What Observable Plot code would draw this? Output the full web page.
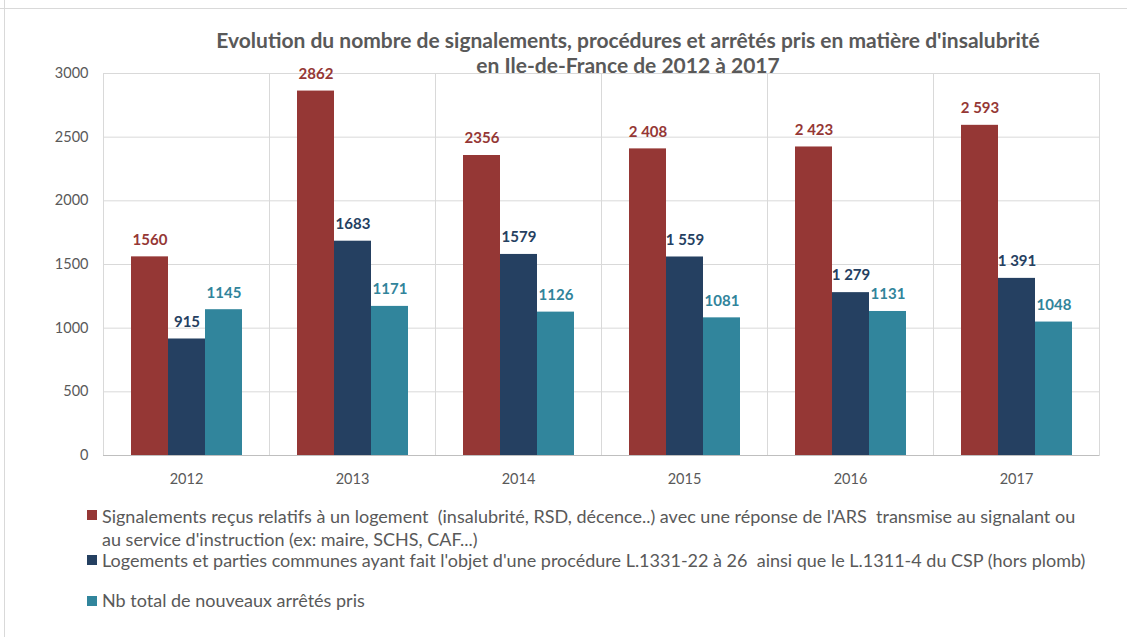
<!DOCTYPE html>
<html>
<head>
<meta charset="utf-8">
<script src="https://cdn.jsdelivr.net/npm/d3@7"></script>
<script src="https://cdn.jsdelivr.net/npm/@observablehq/plot@0.6"></script>
<style>
  body { margin: 0; background: #fff; font-family: Lato, "Open Sans", sans-serif; }
  #wrap { position: relative; width: 1127px; height: 637px; overflow: hidden; }
  #topline { position: absolute; left: 0; top: 8px; width: 1127px; height: 0; border-top: 1px solid #d9d9d9; }
  #leftline { position: absolute; left: 4px; top: 0; width: 0; height: 637px; border-left: 1px solid #d9d9d9; }
  #title { position: absolute; left: 128px; top: 27px; width: 1000px; text-align: center; color: #595959;
           font-weight: bold; font-size: 21px; line-height: 25px; white-space: pre; }
  #chart { position: absolute; left: 0; top: 0; }
  .leg { position: absolute; left: 102px; width: 992px; color: #595959; font-size: 18px; line-height: 23px; white-space: pre-wrap; }
  .sw { position: absolute; left: 87px; width: 10px; height: 10px; }
</style>
</head>
<body>
<div id="wrap">
  <div id="topline"></div>
  <div id="leftline"></div>
  <div id="title"></div>
  <div id="chart"></div>
  <div id="legend"></div>
</div>
<script>
const years = ["2012", "2013", "2014", "2015", "2016", "2017"];
const seriesNames = [
  "Signalements reçus relatifs à un logement  (insalubrité, RSD, décence..) avec une réponse de l'ARS  transmise au signalant ou au service d'instruction (ex: maire, SCHS, CAF...)",
  "Logements et parties communes ayant fait l'objet d'une procédure L.1331-22 à 26  ainsi que le L.1311-4 du CSP (hors plomb)",
  "Nb total de nouveaux arrêtés pris"
];
const signalements = [1560, 2862, 2356, 2408, 2423, 2593];
const logements = [915, 1683, 1579, 1559, 1279, 1391];
const arretes = [1145, 1171, 1126, 1081, 1131, 1048];
const signalementsLabels = ["1560", "2862", "2356", "2 408", "2 423", "2 593"];
const logementsLabels = ["915", "1683", "1579", "1 559", "1 279", "1 391"];
const arretesLabels = ["1145", "1171", "1126", "1081", "1131", "1048"];
const yTicks = [0, 500, 1000, 1500, 2000, 2500, 3000];
const barColors = ["#953735", "#254061", "#31859c"];
const labelColors = ["#953735", "#254061", "#31849b"];
const titleLines = ["Evolution du nombre de signalements, procédures et arrêtés pris en matière d'insalubrité", "en Ile-de-France de 2012 à 2017"];

const valuesBySeries = [signalements, logements, arretes];
const labelsBySeries = [signalementsLabels, logementsLabels, arretesLabels];
const data = [];
years.forEach((yr, i) => {
  seriesNames.forEach((s, k) => {
    data.push({year: yr, series: s, k, value: valuesBySeries[k][i], label: labelsBySeries[k][i]});
  });
});

const titleEl = document.getElementById("title");
titleLines.forEach(t => { const d = document.createElement("div"); d.textContent = t; titleEl.appendChild(d); });

const chart = Plot.plot({
  width: 1127,
  height: 497,
  marginLeft: 103,
  marginRight: 28,
  marginTop: 73,
  marginBottom: 42,
  style: {fontFamily: "Lato, 'Open Sans', sans-serif", fontSize: "14.5px", color: "#595959", background: "transparent"},
  fx: {domain: years, padding: 0, label: null, tickSize: 0, tickPadding: 18, axis: "bottom"},
  x: {domain: seriesNames, paddingInner: 0, paddingOuter: 0.743, axis: null},
  y: {domain: [0, 3000], ticks: yTicks, tickSize: 0, tickPadding: 15, label: null, tickFormat: d => String(d)},
  color: {domain: seriesNames, range: barColors},
  marks: [
    Plot.gridY(yTicks, {stroke: "#d9d9d9", strokeOpacity: 1}),
    Plot.frame({stroke: "#d9d9d9"}),
    Plot.barY(data, {fx: "year", x: "series", y: "value", fill: "series"}),
    Plot.ruleY([0], {stroke: "#bfbfbf"}),
    Plot.text(data, {fx: "year", x: "series", y: "value", text: "label", dy: -17,
      fill: d => labelColors[d.k], fontWeight: "bold", fontSize: 15})
  ]
});
document.getElementById("chart").appendChild(chart);

const legTops = [[505, 510], [549, 555], [589, 596]];
const legend = document.getElementById("legend");
seriesNames.forEach((s, k) => {
  const sw = document.createElement("div");
  sw.className = "sw";
  sw.style.top = legTops[k][1] + "px";
  sw.style.background = barColors[k];
  legend.appendChild(sw);
  const t = document.createElement("div");
  t.className = "leg";
  t.style.top = legTops[k][0] + "px";
  t.textContent = s;
  legend.appendChild(t);
});
</script>
</body>
</html>
